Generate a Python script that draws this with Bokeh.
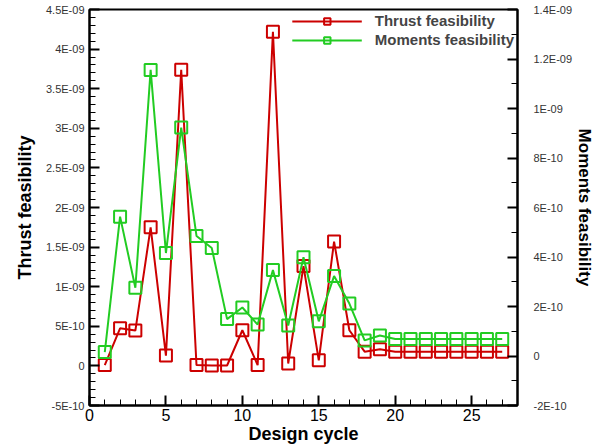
from bokeh.plotting import figure
from bokeh.models import (LinearAxis, Range1d, FixedTicker, CustomJSTickFormatter,
                          Legend, LegendItem)
from bokeh.embed import file_html
from bokeh.resources import INLINE

cycles = list(range(1, 28))
thrust = [0.01e-9, 0.475e-9, 0.446e-9, 1.75e-9, 0.13e-9, 3.74e-9, 0.01e-9, 0.005e-9, 0.005e-9,
          0.45e-9, 0.01e-9, 4.22e-9, 0.03e-9, 1.26e-9, 0.07e-9, 1.57e-9, 0.45e-9, 0.18e-9,
          0.21e-9, 0.18e-9, 0.18e-9, 0.18e-9, 0.18e-9, 0.18e-9, 0.18e-9, 0.18e-9, 0.18e-9]
moments = [0.016e-9, 0.563e-9, 0.276e-9, 1.156e-9, 0.416e-9, 0.923e-9, 0.485e-9, 0.436e-9,
           0.149e-9, 0.196e-9, 0.127e-9, 0.347e-9, 0.123e-9, 0.399e-9, 0.14e-9, 0.323e-9,
           0.212e-9, 0.063e-9, 0.083e-9, 0.069e-9, 0.069e-9, 0.069e-9, 0.069e-9, 0.069e-9,
           0.069e-9, 0.069e-9, 0.069e-9]

x_ticks = [0, 5, 10, 15, 20, 25]
x_minor = list(range(0, 29))
left_ticks = [-5e-10, 0.0, 5e-10, 1e-9, 1.5e-9, 2e-9, 2.5e-9, 3e-9, 3.5e-9, 4e-9, 4.5e-9]
left_minor = [round(i * 1e-10, 20) for i in range(-5, 46)]
right_ticks = [-2e-10, 0.0, 2e-10, 4e-10, 6e-10, 8e-10, 1e-9, 1.2e-9, 1.4e-9]
right_minor = [round(i * 1e-10, 20) for i in range(-2, 15)]

X_MIN, X_MAX = 0, 28
L_MIN, L_MAX = -5e-10, 4.5e-9
R_MIN, R_MAX = -2e-10, 1.4e-9

RED = "#cc0000"
GREEN = "#22cc22"

p = figure(width=597, height=446, output_backend="svg", toolbar_location=None,
           x_range=Range1d(X_MIN, X_MAX), y_range=Range1d(L_MIN, L_MAX),
           min_border_left=89, min_border_right=80, min_border_top=9, min_border_bottom=37)
p.extra_y_ranges = {"mom": Range1d(R_MIN, R_MAX)}
p.grid.visible = False
p.outline_line_color = "black"
p.outline_line_width = 2
p.background_fill_color = "white"
p.border_fill_color = "white"

fmt = CustomJSTickFormatter(code="""
if (Math.abs(tick) < 1e-20) return "0";
let e = Math.floor(Math.log10(Math.abs(tick)) + 1e-9);
let m = tick / Math.pow(10, e);
let ms = (Math.round(m*10)/10).toString();
let es = (e < 0 ? "-" : "+") + String(Math.abs(e)).padStart(2, "0");
return ms + "E" + es;
""")

def style_axis(ax, label_size):
    ax.axis_line_width = 2
    ax.axis_line_color = "black"
    ax.major_tick_in = 10
    ax.major_tick_out = 0
    ax.major_tick_line_color = "black"
    ax.major_tick_line_width = 2
    ax.minor_tick_in = 6
    ax.minor_tick_out = 0
    ax.minor_tick_line_color = "black"
    ax.minor_tick_line_width = 1
    ax.major_label_text_font = "Liberation Sans"
    ax.major_label_text_font_size = label_size
    ax.axis_label_text_font = "Liberation Sans"
    ax.axis_label_text_font_style = "bold"
    ax.axis_label_text_font_size = "18px"
    ax.axis_label_text_color = "black"

xa = p.xaxis[0]
xa.ticker = FixedTicker(ticks=x_ticks, minor_ticks=x_minor)
xa.axis_label = "Design cycle"
style_axis(xa, "16px")
xa.major_label_text_color = "black"
xa.major_label_standoff = 3
xa.axis_label_standoff = 0

ya = p.yaxis[0]
ya.ticker = FixedTicker(ticks=left_ticks, minor_ticks=left_minor)
ya.formatter = fmt
ya.axis_label = "Thrust feasibility"
style_axis(ya, "11px")
ya.major_label_text_color = "#333333"
ya.major_label_standoff = 5
ya.axis_label_standoff = 8

ra = LinearAxis(y_range_name="mom", ticker=FixedTicker(ticks=right_ticks, minor_ticks=right_minor),
                formatter=fmt, axis_label="Moments feasibility")
style_axis(ra, "11px")
ra.major_label_text_color = "#333333"
ra.major_label_standoff = 16
ra.axis_label_standoff = 0
ra.axis_label_text_font_size = "17px"
p.add_layout(ra, "right")

l1 = p.line(cycles, thrust, line_color=RED, line_width=2)
s1 = p.scatter(cycles, thrust, marker="square", size=12, line_color=RED, line_width=2,
               fill_alpha=0)
l2 = p.line(cycles, moments, line_color=GREEN, line_width=2, y_range_name="mom")
s2 = p.scatter(cycles, moments, marker="square", size=12, line_color=GREEN, line_width=2,
               fill_alpha=0, y_range_name="mom")

legend = Legend(items=[LegendItem(label="Thrust feasibility", renderers=[l1, s1]),
                       LegendItem(label="Moments feasibility", renderers=[l2, s2])],
                location="top_right")
legend.glyph_width = 70
legend.glyph_height = 16
legend.label_text_font = "Liberation Sans"
legend.label_text_font_style = "bold"
legend.label_text_font_size = "15px"
legend.label_standoff = 13
legend.spacing = 2
legend.padding = 0
legend.margin = 3
legend.border_line_alpha = 0
legend.background_fill_alpha = 0
legend.label_height = 16
p.add_layout(legend)

open("out.html", "w").write(file_html(p, INLINE))
